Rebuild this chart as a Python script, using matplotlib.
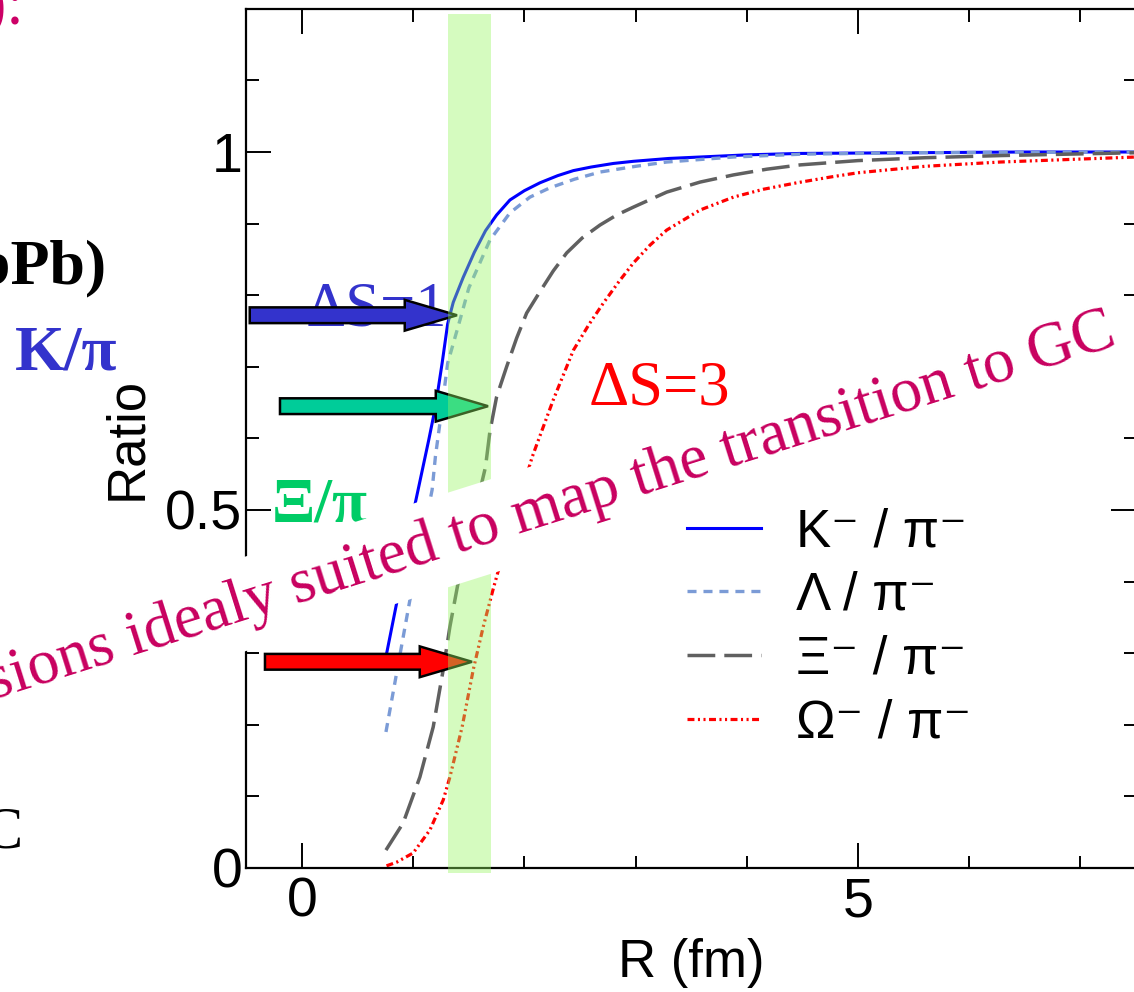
import numpy as np
import matplotlib.pyplot as plt
from matplotlib.patches import FancyArrow
from matplotlib.ticker import MultipleLocator, FuncFormatter

plt.rcParams['font.family'] = ['Liberation Sans', 'DejaVu Sans']
plt.rcParams['lines.scale_dashes'] = False

# curves (R in fm, ratio to GC limit)
r_k = [0.755, 0.80, 0.85, 0.95, 1.03, 1.14, 1.20, 1.26, 1.31, 1.36, 1.45, 1.55, 1.65, 1.75,
       1.87, 2.00, 2.14, 2.30, 2.44, 2.60, 2.80, 2.98, 3.30, 3.58, 4.00, 4.48, 5.5, 6.5, 7.5]
k_pi = [0.295, 0.33, 0.369, 0.46, 0.518, 0.598, 0.644, 0.705, 0.760, 0.790, 0.825, 0.860, 0.890, 0.912,
        0.933, 0.946, 0.957, 0.967, 0.974, 0.979, 0.984, 0.987, 0.991, 0.993, 0.996, 0.998, 0.999, 1.0, 1.0]

r_lam = [0.755, 0.86, 0.97, 1.17, 1.20, 1.24, 1.31, 1.42, 1.50, 1.69, 1.87, 2.05, 2.23, 2.45, 2.68, 3.00,
         3.28, 3.88, 4.5, 5.5, 7.5]
lam_pi = [0.19, 0.28, 0.374, 0.528, 0.575, 0.621, 0.705, 0.765, 0.810, 0.877, 0.915, 0.937, 0.950, 0.962,
          0.972, 0.980, 0.986, 0.993, 0.997, 0.999, 1.0]

r_xi = [0.755, 0.91, 1.06, 1.18, 1.27, 1.33, 1.40, 1.65, 1.69, 1.75, 1.84, 1.93, 2.02, 2.14, 2.26, 2.38,
        2.52, 2.68, 2.83, 2.98, 3.28, 3.58, 3.88, 4.18, 4.48, 5.0, 5.6, 6.28, 7.5]
xi_pi = [0.025, 0.063, 0.127, 0.197, 0.277, 0.337, 0.395, 0.56, 0.61, 0.658, 0.70, 0.740, 0.775, 0.805,
         0.834, 0.859, 0.880, 0.898, 0.912, 0.923, 0.944, 0.958, 0.968, 0.976, 0.982, 0.988, 0.992, 0.995, 0.999]

r_om = [0.76, 0.85, 1.00, 1.15, 1.27, 1.33, 1.44, 1.54, 1.63, 1.72, 1.81, 2.07, 2.11, 2.26,
        2.44, 2.58, 2.71, 2.85, 2.98, 3.13, 3.28, 3.58, 3.88, 4.15, 4.45, 4.75, 5.0, 5.6, 6.28, 7.5]
om_pi = [0.003, 0.008, 0.021, 0.053, 0.095, 0.127, 0.197, 0.277, 0.337, 0.39, 0.44, 0.574, 0.591, 0.654,
         0.723, 0.759, 0.789, 0.819, 0.845, 0.870, 0.891, 0.919, 0.937, 0.948, 0.957, 0.965, 0.971,
         0.980, 0.986, 0.993]

labels = ['K\u207b / \u03c0\u207b', '\u039b / \u03c0\u207b', '\u039e\u207b / \u03c0\u207b', '\u03a9\u207b / \u03c0\u207b']

# block arrows: start R, tip R, ratio
arrows = [(-0.47, 1.394, 0.772, '#3333CC'),
          (-0.198, 1.673, 0.645, '#00CC99'),
          (-0.333, 1.529, 0.288, '#FF0000')]

band = (1.31, 1.70)

fig = plt.figure(figsize=(11.34, 9.92), dpi=100)
ax = fig.add_axes([246.4 / 1134, 124 / 992, 889.6 / 1134, 859.2 / 992])

l1, = ax.plot(r_k, k_pi, color='#0000FF', lw=2.2, zorder=2)
l2, = ax.plot(r_lam, lam_pi, color='#7B9BD6', lw=2.4, dashes=(6.5, 5), zorder=2)
l3, = ax.plot(r_xi, xi_pi, color='#606060', lw=2.5, dashes=(20, 6.5), zorder=2)
l4, = ax.plot(r_om, om_pi, color='#FF0000', lw=2.3, dashes=(5, 2.5, 1.5, 2.5, 1.5, 2.5), zorder=2)

for x0, x1, y, c in arrows:
    ax.add_patch(FancyArrow(x0, y, x1 - x0, 0, width=0.022, head_width=0.043, head_length=0.47,
                            length_includes_head=True, fc=c, ec='black', lw=1.8, zorder=4))

ax.axvspan(band[0], band[1], ymin=-0.006, ymax=0.994, color=(150/255, 247/255, 97/255),
           alpha=0.4, lw=0, zorder=5, clip_on=False)

ax.set_xlim(-0.5, 7.5)
ax.set_ylim(0, 1.2)
ax.xaxis.set_major_locator(MultipleLocator(5))
ax.xaxis.set_minor_locator(MultipleLocator(1))
ax.yaxis.set_major_locator(MultipleLocator(0.5))
ax.yaxis.set_minor_locator(MultipleLocator(0.1))
ax.yaxis.set_major_formatter(FuncFormatter(lambda v, p: '%g' % v))
ax.tick_params(which='both', direction='in', top=True, right=True, width=1.4, labelsize=40)
ax.tick_params(which='major', length=18, pad=6)
ax.tick_params(axis='y', which='major', pad=3)
ax.tick_params(which='minor', length=9)
for s in ax.spines.values():
    s.set_linewidth(1.6)
ax.set_xlabel('R (fm)', fontsize=38, labelpad=7)
ax.set_ylabel('Ratio', fontsize=38, labelpad=9)

ax.legend([l1, l2, l3, l4], labels, loc='upper left', bbox_to_anchor=(0.4957, 0.42), frameon=False,
          fontsize=38, handlelength=1.4, handletextpad=0.65, labelspacing=0.26, borderpad=0,
          borderaxespad=0)

serif = 'Liberation Serif'
ax.text(0.03, 0.757, '\u0394S=1', family=serif, fontsize=45, color='#3333CC', va='baseline', zorder=3)
ax.text(2.58, 0.647, '\u0394S=3', family=serif, fontsize=45, color='#FF0000', va='baseline', zorder=3)

fig.text(25 / 1134, 1 - 24 / 992, 'b):', family=serif, fontsize=45, color='#CC0066', ha='right', va='baseline')
fig.text(107 / 1134, 1 - 283 / 992, 'PbPb)', family=serif, fontsize=46, weight='bold', ha='right', va='baseline')
fig.text(15 / 1134, 1 - 370 / 992, 'K/\u03c0', family=serif, fontsize=46, weight='bold', color='#3333CC', va='baseline')
fig.text(272 / 1134, 1 - 521 / 992, '\u039e/\u03c0', family=serif, fontsize=46, weight='bold', color='#00CC66', va='baseline')
fig.text(24 / 1134, 1 - 848 / 992, 'GC', family=serif, fontsize=43, ha='right', va='baseline')

fig.text(1114 / 1134, 1 - 330 / 992, 'sions idealy suited to map the transition to GC', family=serif,
         fontsize=45.8, color='#C8005F', rotation=17.5, rotation_mode='anchor', ha='right', va='center',
         bbox=dict(boxstyle='square,pad=0.25', fc='white', ec='none'), zorder=10)

fig.savefig('out.png', dpi=100)
